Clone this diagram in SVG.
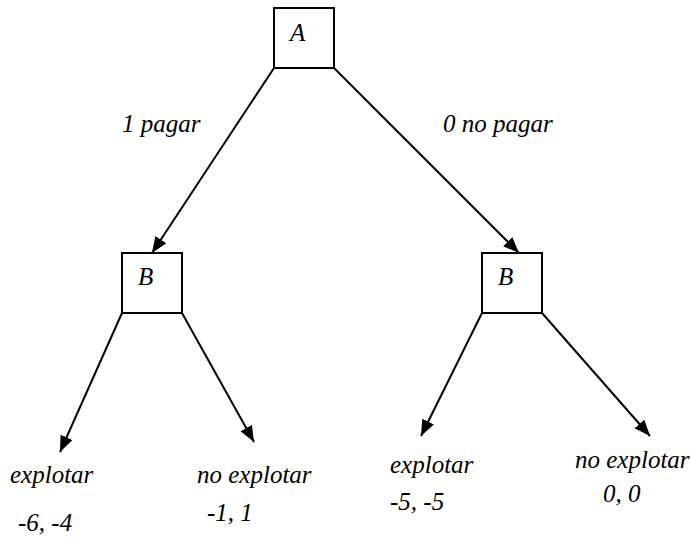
<svg xmlns="http://www.w3.org/2000/svg" width="691" height="537" viewBox="0 0 691 537">
<defs>
<marker id="ah" markerUnits="userSpaceOnUse" markerWidth="18" markerHeight="14" refX="16" refY="6.5" orient="auto">
<path d="M0,0 L16,6.5 L0,13 z" fill="#000"/>
</marker>
<style>
.box{fill:#fff;stroke:#000;stroke-width:2}
.edge{stroke:#000;stroke-width:2;fill:none;marker-end:url(#ah)}
text{font-family:"Liberation Serif","Times New Roman",serif;font-style:italic;font-size:25px;fill:#000}
</style>
</defs>
<rect width="691" height="537" fill="#fff"/>
<g id="connectors">
<line class="edge" x1="274" y1="68" x2="152" y2="253"/>
<line class="edge" x1="334" y1="68" x2="519" y2="253"/>
<line class="edge" x1="122" y1="313" x2="60" y2="452"/>
<line class="edge" x1="182" y1="313" x2="254" y2="442"/>
<line class="edge" x1="482" y1="313" x2="421" y2="436"/>
<line class="edge" x1="542" y1="313" x2="650" y2="436"/>
</g>
<g id="nodeA">
<rect class="box" x="274" y="8" width="60" height="60"/>
<text x="290" y="41">A</text>
</g>
<g id="nodeB1">
<rect class="box" x="122" y="253" width="60" height="60"/>
<text x="138" y="285">B</text>
</g>
<g id="nodeB2">
<rect class="box" x="482" y="253" width="60" height="60"/>
<text x="498" y="285">B</text>
</g>
<g id="labels">
<text x="122" y="132">1 pagar</text>
<text x="443" y="132">0 no pagar</text>
</g>
<g id="leaf1">
<text x="10" y="483">explotar</text>
<text x="18" y="531">-6, -4</text>
</g>
<g id="leaf2">
<text x="197" y="483">no explotar</text>
<text x="207" y="521">-1, 1</text>
</g>
<g id="leaf3">
<text x="390" y="473">explotar</text>
<text x="390" y="510">-5, -5</text>
</g>
<g id="leaf4">
<text x="575" y="468">no explotar</text>
<text x="603" y="502">0, 0</text>
</g>
</svg>
